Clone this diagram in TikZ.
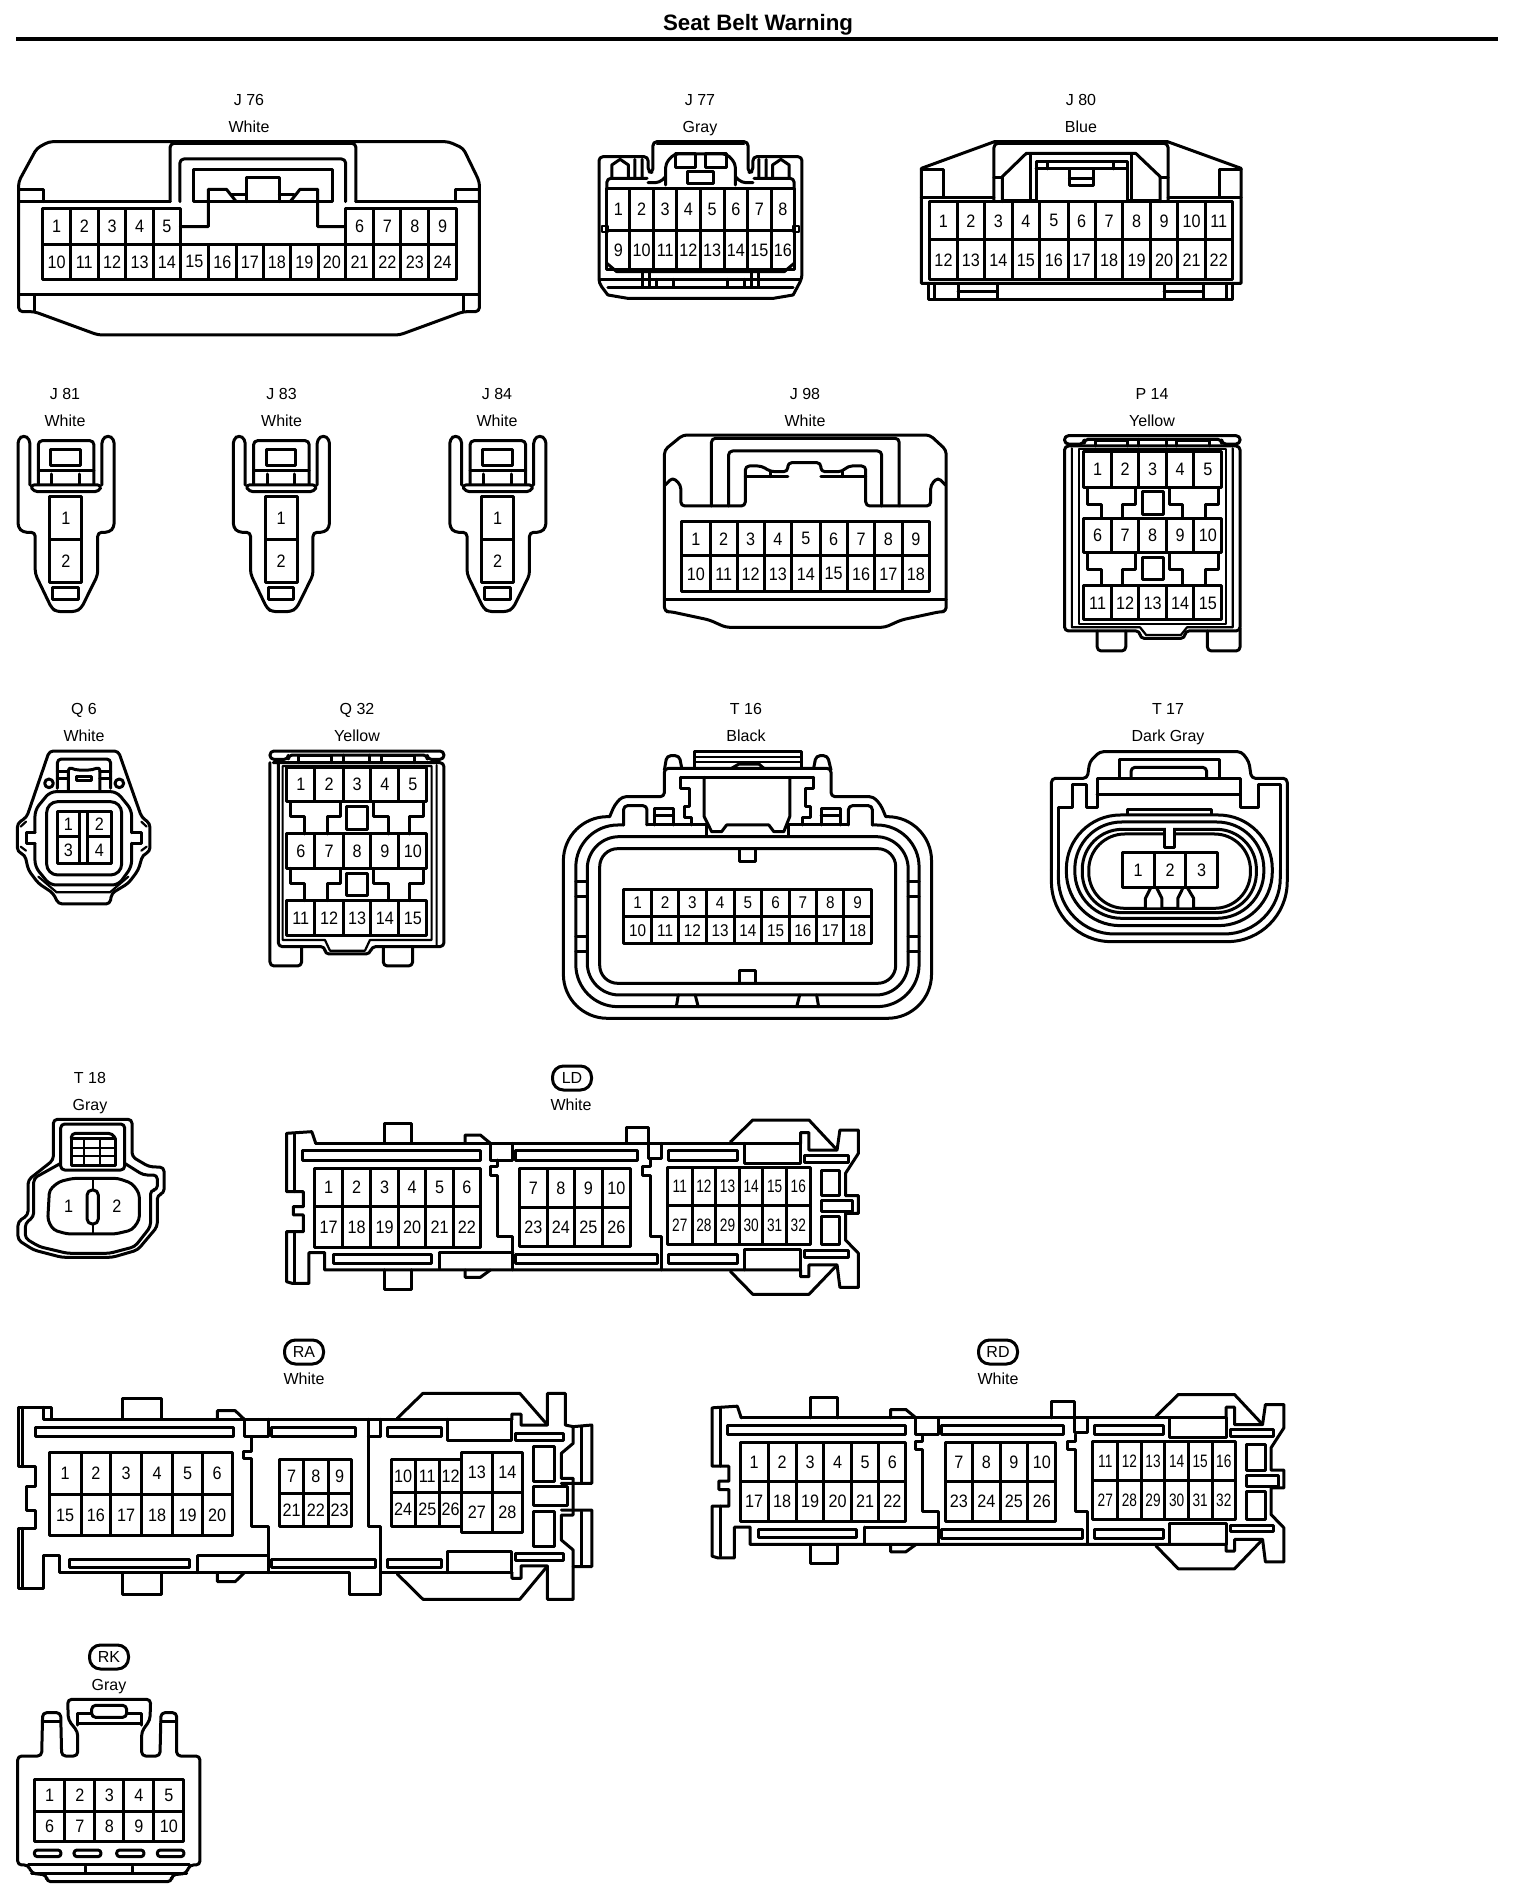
\documentclass[tikz,border=0pt]{standalone}
\usepackage{fontspec}
\setmainfont{Liberation Sans}
\newfontfamily\pinfont{Liberation Sans}[FakeStretch=0.9]
\newfontfamily\pinnarrow{Liberation Sans}[FakeStretch=0.76]
\def\noneN{N}
\tikzset{
  pin/.style={inner sep=0pt,font=\pinfont\fontsize{18}{18}\selectfont},
  pinS/.style={pin/.append style={font=\pinfont\fontsize{17}{17}\selectfont}},
  pinN/.style={pin/.append style={font=\pinnarrow\fontsize{18}{18}\selectfont}},
  lab/.style={inner sep=0pt,anchor=base,font=\fontsize{16}{16}\selectfont},
  badge/.style={draw,line width=3pt,rounded corners=11pt,minimum width=39pt,minimum height=24pt,inner sep=0pt,font=\fontsize{16}{16}\selectfont},
  rd/.style={rounded corners=4pt},
  thinl/.style={line width=2.2pt},
  ttl/.style={inner sep=0pt,anchor=base,font=\bfseries\fontsize{22.3}{22}\selectfont},
}
\newcommand\cellrow[5]{%
  \pgfmathtruncatemacro\cstart{#4-1}%
  \foreach \xx [remember=\xx as \px (initially N), count=\ii from \cstart] in {#5}{%
    \ifx\px\noneN\else
      \draw (\px,#2) rectangle (\xx,#3);
      \path (\px,#2) -- (\xx,#3) node[pin,midway] (#1p\ii) {\ii};
    \fi}}
\newcommand\lab[4]{\node[lab] (#1) at (#2pt,-#3pt) {#4};}
\newcommand\slot[4]{\draw (#1,#2) rectangle (#3,#4);}
\newcommand\jtwo[1]{%
  \draw[rd] (78,345)--(78,208)--(62,195)--(47,208)--(47,472)--(60,487)--(92,487)--(92,612)--(135,715)--(148,725)--(197,725)--(212,715)--(255,615)--(255,487)--(285,487)--(298,472)--(298,208)--(282,195)--(266,208)--(266,345);
  \draw[rd] (78,345)--(266,345)--(258,365)--(88,365)--cycle;
  \draw[rd] (100,342)--(100,212)--(245,212)--(245,342);
  \draw (133,238) rectangle (210,287);
  \draw (100,302)--(245,302);
  \draw (135,312)--(135,342) (207,312)--(207,342);
  \cellrow{#1}{380}{508}{1}{130,214}
  \cellrow{#1}{508}{638}{2}{130,214}
  \draw (138,652) rectangle (205,690);
}
\newcommand\ldbody[1]{%
  % outer
  \draw (562,280)--(555,245)--(510,250)--(510,425)--(540,425)--(540,470)--(522,470)--(522,495)--(540,495)--(540,545)--(510,545)--(510,695)--(520,700)--(550,700)--(550,608)--(578,608)--(578,660)--(1425,660);
  \draw (525,250)--(525,425) (525,545)--(525,695);
  \draw (562,280)--(1425,280);
  \draw (685,280)--(685,220)--(733,220)--(733,280);
  \draw (828,280)--(828,255)--(855,255)--(873,280);
  \draw (1115,280)--(1115,232)--(1155,232)--(1155,280);
  \draw (685,660)--(685,718)--(733,718)--(733,660);
  \draw (828,660)--(828,682)--(855,682)--(873,660);
  \draw (1300,276)--(1340,210)--(1440,210)--(1490,300);
  \draw (1300,664)--(1340,733)--(1440,733)--(1490,645);
  \draw (1425,280)--(1425,248)--(1440,248)--(1440,300)--(1490,300)--(1495,240)--(1528,240)--(1528,310)--(1505,370)--(1505,437)--(1528,437)--(1528,490)--(1505,490)--(1505,570)--(1528,610)--(1528,712)--(1495,712)--(1490,645)--(1440,645)--(1440,680)--(1425,680)--(1425,660);
  % slots
  \slot{538}{302}{855}{330}\slot{918}{302}{1135}{330}\slot{1190}{302}{1313}{330}\slot{1432}{315}{1510}{337}
  \slot{593}{615}{768}{640}\slot{918}{615}{1170}{642}\slot{1190}{615}{1313}{642}\slot{1432}{602}{1510}{622}
  \draw (1325,280)--(1325,340)--(1425,340)--(1425,280);
  \draw (1325,660)--(1325,598)--(1425,598)--(1425,660);
  % dividers
  \draw (873,280)--(873,330)--(913,330)--(913,280);
  \draw (885,330)--(885,350)--(873,350)--(873,375)--(885,375)--(885,560)--(913,560)--(913,660);
  \draw (782,608)--(913,608) (782,608)--(782,655);
  \draw (1155,280)--(1155,325)--(1178,325)--(1178,280);
  \draw (1157,330)--(1157,350)--(1143,350)--(1143,375)--(1157,375)--(1157,560)--(1178,560)--(1178,660);
  % right slots
  \slot{1462}{360}{1495}{437}\slot{1462}{452}{1518}{485}\slot{1462}{500}{1495}{585}
  % cells
  \cellrow{#1}{355}{470}{1}{560,610,660,709,758,807,855}
  \cellrow{#1}{470}{592}{17}{560,610,660,709,758,807,855}
  \cellrow{#1}{355}{472}{7}{925,974,1023,1072,1122}
  \cellrow{#1}{472}{590}{23}{925,974,1023,1072,1122}
  \begin{scope}[pinN]
  \cellrow{#1}{352}{468}{11}{1188,1232,1274,1316,1358,1400,1442}
  \cellrow{#1}{468}{585}{27}{1188,1232,1274,1316,1358,1400,1442}
  \end{scope}
}
\begin{document}
\begin{tikzpicture}[line width=3pt,line join=round,line cap=round]
\useasboundingbox (0,0) rectangle (1536pt,-1904pt);
\node[ttl] (title) at (758pt,-30.5pt) {Seat Belt Warning};
\coordinate (ruleL) at (16pt,-39pt);
\coordinate (ruleR) at (1498pt,-39pt);
\draw[line width=3.6pt,line cap=butt] (ruleL)--(ruleR);
%
\lab{J76}{249}{105}{J 76}\lab{J76c}{249}{132}{White}
\lab{J77}{700}{105}{J 77}\lab{J77c}{700}{132}{Gray}
\lab{J80}{1081}{105}{J 80}\lab{J80c}{1081}{132}{Blue}
\lab{J81}{65}{399}{J 81}\lab{J81c}{65}{426}{White}
\lab{J83}{281.6}{399}{J 83}\lab{J83c}{281.6}{426}{White}
\lab{J84}{497}{399}{J 84}\lab{J84c}{497}{426}{White}
\lab{J98}{805}{399}{J 98}\lab{J98c}{805}{426}{White}
\lab{P14}{1152}{399}{P 14}\lab{P14c}{1152}{426}{Yellow}
\lab{Q6}{84}{714}{Q 6}\lab{Q6c}{84}{741}{White}
\lab{Q32}{357}{714}{Q 32}\lab{Q32c}{357}{741}{Yellow}
\lab{T16}{746}{714}{T 16}\lab{T16c}{746}{741}{Black}
\lab{T17}{1168}{714}{T 17}\lab{T17c}{1168}{741}{Dark Gray}
\lab{T18}{90}{1083}{T 18}\lab{T18c}{90}{1110}{Gray}
\node[badge] (LD) at (572pt,-1078pt) {LD}; \lab{LDc}{571}{1110}{White}
\node[badge] (RA) at (304pt,-1352pt) {RA}; \lab{RAc}{304}{1384}{White}
\node[badge] (RD) at (998pt,-1352pt) {RD}; \lab{RDc}{998}{1384}{White}
\node[badge] (RK) at (109pt,-1657pt) {RK}; \lab{RKc}{109}{1690}{Gray}
%
% ---------- J76
\begin{scope}[x=.4902pt,y=-.3333pt]
\draw[rd] (38,935)--(38,545)--(75,445)--(100,425)--(915,425)--(945,445)--(978,545)--(978,935)--(945,935)--(815,1005)--(200,1005)--(70,935)--cycle;
\draw (38,568)--(88,568)--(88,605) (978,568)--(930,568)--(930,605);
\draw (38,605)--(347,605) (726,605)--(978,605);
\draw[rd] (347,605)--(347,430)--(726,430)--(726,605);
\draw[rd] (367,605)--(367,477)--(705,477)--(705,605);
\draw (395,508)--(678,508)--(678,605)--(395,605)--cycle;
\draw (368,680)--(425,680)--(425,568)--(462,568)--(482,605);
\draw (502,605)--(502,533)--(570,533)--(570,605);
\draw (472,585)--(502,585) (570,585)--(600,585);
\draw (592,605)--(612,568)--(648,568)--(648,680)--(705,680);
\draw (38,885)--(978,885) (70,885)--(70,935) (945,885)--(945,935);
\cellrow{J76}{625}{733}{1}{87,144,200,257,313,368}
\cellrow{J76}{625}{733}{6}{705,762,818,875,931}
\cellrow{J76}{733}{838}{10}{87,144,200,257,313,368,425,482,537,593,649,705,762,818,875,931}
%
% ---------- J77
\draw[rd] (1240,885)--(1222,850)--(1222,470)--(1322,470)--(1322,515)--(1332,518)--(1332,425)--(1526,425)--(1526,518)--(1536,515)--(1536,470)--(1636,470)--(1636,835)--(1618,885);
\draw (1240,885)--(1280,895)--(1578,895)--(1618,885);
\draw[thinl] (1340,433)--(1518,433);
\draw[rd] (1238,565)--(1238,535)--(1320,535);
\draw[rd] (1620,565)--(1620,535)--(1538,535);
\draw (1248,535)--(1248,495)--(1265,478)--(1282,495)--(1282,535) (1295,478)--(1295,535) (1310,478)--(1310,535);
\draw (1610,535)--(1610,495)--(1593,478)--(1576,495)--(1576,535) (1563,478)--(1563,535) (1548,478)--(1548,535);
\draw[rd] (1358,555)--(1358,490)--(1375,462)--(1483,462)--(1500,490)--(1500,555);
\draw[rd] (1322,548)--(1345,548)--(1358,530) (1536,548)--(1513,548)--(1500,530);
\draw (1378,462) rectangle (1418,502) (1440,462) rectangle (1482,502) (1402,515) rectangle (1455,550);
\draw (1238,565)--(1620,565);
\cellrow{J77}{565}{692}{1}{1238,1285,1333,1381,1428,1477,1525,1573,1621}
\cellrow{J77}{692}{810}{9}{1238,1285,1333,1381,1428,1477,1525,1573,1621}
\draw[thinl] (1228,678) rectangle (1240,695) (1618,678) rectangle (1630,695);
\draw (1238,790)--(1258,815)--(1600,815)--(1620,790);
\draw (1225,838)--(1633,838) (1240,862)--(1618,862);
\draw (1310,815)--(1310,862) (1325,815)--(1325,862) (1340,838)--(1340,862) (1373,838)--(1373,862) (1485,838)--(1485,862) (1518,838)--(1518,862) (1533,815)--(1533,862) (1548,815)--(1548,862);
\end{scope}
%
% ---------- J80
\begin{scope}[x=.4902pt,y=-.3333pt,shift={(768pt,0pt)}]
\draw (313,850)--(313,505)--(462,425)--(815,425)--(965,505)--(965,850)--cycle;
\draw (313,592)--(461,592) (816,592)--(965,592);
\draw (313,508)--(358,508)--(358,592) (965,508)--(920,508)--(920,592);
\draw[rd] (461,600)--(461,430)--(816,430)--(816,600);
\draw (478,605)--(478,530)--(527,460)--(750,460)--(800,530)--(800,605);
\draw (461,532)--(478,532) (800,532)--(816,532);
\draw (478,603)--(547,603) (733,603)--(800,603);
\draw (535,465)--(535,600) (742,465)--(742,600);
\draw (547,600)--(547,485)--(733,485)--(733,600);
\draw (547,507)--(733,507) (570,485)--(570,507) (705,485)--(705,507);
\draw (615,507)--(615,557)--(663,557)--(663,507) (615,535)--(663,535);
\cellrow{J80}{605}{720}{1}{330,386,442,498,554,612,668,724,780,836,892,947}
\cellrow{J80}{720}{840}{12}{330,386,442,498,554,612,668,724,780,836,892,947}
\draw (328,850)--(328,898)--(948,898)--(948,850);
\draw (340,850)--(340,898) (388,850)--(388,898) (468,850)--(468,898) (808,850)--(808,898) (888,850)--(888,898) (935,850)--(935,898);
\draw (388,875)--(468,875) (808,875)--(888,875);
\end{scope}
%
% ---------- J81 J83 J84
\begin{scope}[x=.3831pt,y=-.3333pt,shift={(0pt,-370pt)}]\jtwo{J81}\end{scope}
\begin{scope}[x=.3831pt,y=-.3333pt,shift={(215.3pt,-370pt)}]\jtwo{J83}\end{scope}
\begin{scope}[x=.3831pt,y=-.3333pt,shift={(431.8pt,-370pt)}]\jtwo{J84}\end{scope}
%
% ---------- J98 P14
\begin{scope}[x=.4082pt,y=-.3333pt,shift={(640pt,-370pt)}]
\draw[rd] (60,240)--(105,195)--(710,195)--(750,240)--(750,725)--(735,725)--(640,750)--(600,772)--(210,772)--(170,750)--(75,725)--(60,725)--cycle;
\draw[rd] (62,345)--(80,322)--(100,345)--(100,408)--(258,408)--(258,288)--(298,288)--(320,305)--(362,305)--(362,278)--(443,278)--(443,305)--(495,305)--(510,288)--(553,288)--(553,408)--(712,408)--(712,345)--(730,322)--(748,345);
\draw (258,320)--(362,320) (443,320)--(553,320) (320,305)--(320,320) (495,305)--(495,320);
\draw[rd] (175,408)--(175,205)--(635,205)--(635,408);
\draw[rd] (217,408)--(217,243)--(592,243)--(592,408);
\draw (60,688)--(750,688);
\cellrow{J98}{455}{558}{1}{102,172,238,304,372,441,508,575,642,710}
\cellrow{J98}{558}{665}{10}{102,172,238,304,372,441,508,575,642,710}
% P14
\draw[rd] (1040,222)--(1040,197)--(1470,197)--(1470,222)--(1425,222)--(1425,208)--(1088,208)--(1088,222)--cycle;
\draw (1115,228)--(1115,210)--(1195,210)--(1195,228) (1222,208)--(1222,228) (1290,208)--(1290,228) (1315,228)--(1315,210)--(1395,210)--(1395,228);
\draw[rd] (1040,783)--(1040,228)--(1470,228)--(1470,783)--(1335,783)--(1335,805)--(1225,805)--(1225,783)--cycle;
\draw[thinl] (1058,235)--(1058,772)--(1225,772)--(1240,795)--(1325,795)--(1340,772)--(1452,772)--(1452,235);
\draw[thinl] (1075,238)--(1075,762)--(1435,762)--(1435,238)--cycle;
\cellrow{P14}{245}{352}{1}{1087,1155,1222,1289,1357,1425}
\cellrow{P14}{445}{548}{6}{1087,1155,1222,1289,1357,1425}
\cellrow{P14}{648}{750}{11}{1087,1155,1222,1289,1357,1425}
\foreach \dy in {0,197}{
\begin{scope}[yshift=-\dy*.3333pt]
\draw (1097,352)--(1097,403)--(1130,403)--(1130,445) (1183,445)--(1183,403)--(1215,403)--(1215,352);
\draw (1297,352)--(1297,403)--(1330,403)--(1330,445) (1385,445)--(1385,403)--(1417,403)--(1417,352);
\draw (1230,365) rectangle (1282,433);
\end{scope}}
\draw[rd] (1120,783)--(1120,843)--(1190,843)--(1190,783);
\draw[rd] (1390,783)--(1390,843)--(1470,843)--(1470,775);
\end{scope}
%
% ---------- Q6 Q32
\begin{scope}[x=.3333pt,y=-.3333pt,shift={(0pt,-690pt)}]
\draw[rd] (52,400)--(80,382)--(148,183)--(355,183)--(425,382)--(450,400)--(450,485)--(428,495)--(415,540)--(385,580)--(335,610)--(330,642)--(175,642)--(160,610)--(115,580)--(85,540)--(75,495)--(52,485)--cycle;
\draw[rounded corners=6pt] (105,428)--(105,360)--(150,305)--(350,305)--(395,360)--(395,428);
\draw (105,428)--(80,428)--(80,460)--(105,460) (395,428)--(425,428)--(425,460)--(395,460);
\draw[rounded corners=6pt] (105,460)--(105,530)--(150,585)--(355,585)--(395,530)--(395,460);
\draw[rounded corners=11pt] (140,335) rectangle (365,555);
\draw[thinl] (115,560)--(170,607)--(330,607)--(385,560);
\draw[thinl] (62,410)--(78,395) (62,470)--(78,482) (440,410)--(424,395) (440,470)--(424,482);
\cellrow{Q6}{365}{440}{1}{172,238}\cellrow{Q6}{365}{440}{2}{262,335}
\cellrow{Q6}{440}{522}{3}{172,238}\cellrow{Q6}{440}{522}{4}{262,335}
\draw (238,365)--(262,365) (238,522)--(262,522);
\draw[rd] (172,295)--(172,207)--(332,207)--(332,295);
\draw (172,245)--(205,245) (172,265)--(205,265) (300,245)--(332,245) (300,265)--(332,265);
\draw[rd] (205,302)--(205,230)--(225,240)--(278,240)--(300,230)--(300,302);
\draw (230,258) rectangle (275,272);
\draw (147,280) circle[radius=13] (358,280) circle[radius=13];
% Q32
\draw[rd] (810,208)--(810,183)--(1332,183)--(1332,208)--(1282,208)--(1282,195)--(865,195)--(865,208)--cycle;
\draw (895,218)--(895,197)--(995,197)--(995,218) (1030,195)--(1030,218) (1110,195)--(1110,218) (1145,218)--(1145,197)--(1245,197)--(1245,218) (1030,218)--(1110,218);
\draw[rd] (820,218)--(1332,218)--(1332,770)--(1115,770)--(1110,792)--(975,792)--(975,770)--(835,770)--(835,218);
\draw[rd] (810,218)--(810,828)--(905,828)--(905,770);
\draw[rd] (1150,770)--(1150,828)--(1238,828)--(1238,770);
\draw[thinl] (848,228)--(848,750)--(975,750)--(990,782)--(1095,782)--(1110,750)--(1295,750)--(1295,228)--cycle (1310,225)--(1310,765);
\cellrow{Q32}{232}{335}{1}{860,945,1030,1113,1197,1280}
\cellrow{Q32}{432}{535}{6}{860,945,1030,1113,1197,1280}
\cellrow{Q32}{632}{738}{11}{860,945,1030,1113,1197,1280}
\foreach \dy in {0,200}{
\begin{scope}[yshift=-\dy*.3333pt]
\draw (872,335)--(872,380)--(915,380)--(915,432) (982,432)--(982,380)--(1022,380)--(1022,335);
\draw (1122,335)--(1122,380)--(1165,380)--(1165,432) (1230,432)--(1230,380)--(1270,380)--(1270,335);
\draw (1040,350) rectangle (1102,418);
\end{scope}}
\end{scope}
%
% ---------- T16 T17
\begin{scope}[x=.4975pt,y=-.3333pt,shift={(540pt,-690pt)}]
% outer
\draw[rd] (140,380)--(150,345)--(165,320)--(250,320)--(250,235)--(585,235)--(585,320)--(670,320)--(685,345)--(695,380);
\draw[rounded corners=44pt] (140,380)--(47,380)--(47,985)--(787,985)--(787,380)--(695,380);
\draw (310,235)--(310,185)--(525,185)--(525,235);
\draw[thinl] (310,200)--(525,200) (310,215)--(525,215);
\draw[rd] (250,240)--(255,197)--(280,197)--(285,235) (585,240)--(578,197)--(555,197)--(550,235);
\draw (385,235)--(400,222)--(440,222)--(450,235);
\draw (283,262)--(550,262);
\draw (283,262)--(283,295)--(300,295)--(300,350)--(290,350)--(290,382)--(305,382)--(305,405);
\draw (550,262)--(550,295)--(533,295)--(533,350)--(543,350)--(543,382)--(528,382)--(528,405);
\draw (330,262)--(330,380)--(345,425)--(365,425)--(375,405)--(460,405)--(470,425)--(490,425)--(502,380)--(502,262);
\draw (215,405)--(335,405)--(335,438) (500,438)--(500,405)--(620,405);
% ring 2
\draw[rd] (215,405)--(215,347)--(168,347)--(168,405);
\draw[rd] (668,405)--(668,347)--(620,347)--(620,405);
\draw[rounded corners=42pt] (168,405)--(72,405)--(72,950)--(762,950)--(762,405)--(668,405);
\draw (230,405)--(230,355)--(268,355)--(268,405) (230,378)--(268,378);
\draw (565,405)--(565,355)--(603,355)--(603,405) (565,378)--(603,378);
% ring 3, 4
\draw[rounded corners=32pt] (95,440) rectangle (740,915);
\draw[rounded corners=18pt] (120,476) rectangle (715,880);
\draw (72,575)--(95,575) (72,620)--(95,620) (72,740)--(95,740) (72,785)--(95,785) (740,575)--(762,575) (740,620)--(762,620) (740,740)--(762,740) (740,785)--(762,785);
\draw (278,915)--(274,950) (312,915)--(318,950) (556,915)--(560,950) (522,915)--(516,950);
\draw (400,478)--(400,515)--(433,515)--(433,478) (400,880)--(400,842)--(433,842)--(433,880);
\begin{scope}[pinS]
\cellrow{T16}{598}{680}{1}{168,224,279,334,390,446,501,556,611,666}
\cellrow{T16}{680}{762}{10}{168,224,279,334,390,446,501,556,611,666}
\end{scope}
% T17
\draw[rd] (1028,540)--(1028,265)--(1100,265)--(1105,215)--(1125,185)--(1410,185)--(1425,215)--(1430,265)--(1502,265)--(1502,540);
\draw[rounded corners=60pt] (1028,540)--(1028,755)--(1502,755)--(1502,540);
\draw (1042,540)--(1042,352)--(1070,352)--(1070,283)--(1098,283)--(1098,352)--(1120,352)--(1120,265)--(1408,265)--(1408,352)--(1445,352)--(1445,283)--(1488,283)--(1488,540);
\draw[rounded corners=56pt] (1042,540)--(1042,732)--(1488,732)--(1488,540);
\draw (1120,312)--(1408,312);
\draw (1165,265)--(1165,208)--(1365,208)--(1365,265);
\draw[rd] (1188,262)--(1188,232)--(1340,232)--(1340,262);
\draw (1180,372)--(1180,360)--(1350,360)--(1350,372);
\draw[rounded corners=54pt] (1058,375) rectangle (1472,707);
\draw[rounded corners=47pt] (1075,396) rectangle (1455,685);
\draw[rounded corners=40pt] (1090,418) rectangle (1440,668);
\draw[rounded corners=36pt] (1103,432) rectangle (1428,655);
\path[fill=white] (1258,412) rectangle (1272,470);
\draw (1255,420)--(1255,472)--(1275,472)--(1275,420);
\cellrow{T17}{487}{593}{1}{1170,1235,1298,1362}
\path[fill=white] (1220,600) rectangle (1248,652) (1284,600) rectangle (1312,652);
\draw (1217,655)--(1217,625)--(1227,595) (1240,595)--(1250,625)--(1250,655);
\draw (1282,655)--(1282,625)--(1292,595) (1302,595)--(1314,625)--(1314,655);
\end{scope}
%
% ---------- T18 + LD
\begin{scope}[x=.5618pt,y=-.3333pt,shift={(0pt,-1050pt)}]
\draw[rd] (95,330)--(95,208)--(235,208)--(235,320)--(265,350)--(292,352)--(292,430)--(280,435)--(280,530)--(245,600)--(200,622)--(110,622)--(60,600)--(32,570)--(32,515)--(50,495)--(50,390)--cycle;
\draw[rd] (108,340)--(60,385)--(60,500)--(45,520)--(45,565)--(70,590)--(120,610)--(195,610)--(240,590)--(268,530)--(268,420)--(280,420)--(280,375)--(255,375)--(222,340);
\draw[rd] (108,360)--(108,222)--(222,222)--(222,360)--cycle;
\draw (127,265) rectangle (205,345);
\draw[thinl] (127,295)--(205,295) (127,318)--(205,318) (150,265)--(150,345) (178,265)--(178,345);
\draw[rd] (127,265)--(127,250)--(200,250)--(205,265);
\draw[rd] (88,420)--(105,395)--(130,385)--(210,385)--(235,400)--(248,430)--(248,510)--(235,540)--(205,552)--(120,552)--(95,540)--(85,510)--cycle;
\draw[thinl] (165,385)--(165,552);
\draw[fill=white,rounded corners=5pt] (155,420) rectangle (175,522);
\node[pin] (T18p1) at (122,468) {1};
\node[pin] (T18p2) at (208,468) {2};
\ldbody{LD}
\end{scope}
\begin{scope}[x=.5618pt,y=-.3333pt,shift={(425.5pt,-1324.5pt)}]
\ldbody{RD}
\end{scope}
%
% ---------- RA
\begin{scope}[x=.3953pt,y=-.3333pt,shift={(0pt,-1330pt)}]
\draw (130,268)--(130,232)--(47,232)--(47,410)--(90,410)--(90,470)--(68,470)--(68,540)--(90,540)--(90,595)--(47,595)--(47,775)--(110,775)--(110,678)--(150,678)--(150,728)--(885,728)--(885,795)--(962,795)--(962,728)--(1295,728);
\draw (58,232)--(58,410) (58,595)--(58,775);
\draw (110,232)--(110,268)--(1295,268);
\draw (310,268)--(310,205)--(408,205)--(408,268);
\draw (550,268)--(550,242)--(595,242)--(618,268);
\draw (550,728)--(550,755)--(595,755)--(618,728);
\draw (310,728)--(310,795)--(408,795)--(408,728);
\draw (1005,265)--(1070,190)--(1315,190)--(1385,285);
\draw (1005,732)--(1070,808)--(1315,808)--(1385,708);
\draw (1295,268)--(1295,252)--(1318,252)--(1318,285)--(1385,285)--(1385,190)--(1430,190)--(1430,285)--(1450,290)--(1450,340)--(1420,370)--(1420,445)--(1450,445)--(1450,555)--(1420,555)--(1420,630)--(1450,660)--(1450,808)--(1385,808)--(1385,708)--(1318,708)--(1318,745)--(1295,745)--(1295,728);
\draw (1450,290)--(1497,285)--(1497,460)--(1420,460) (1420,540)--(1497,540)--(1497,710)--(1450,710);
\draw (1472,290)--(1472,455) (1472,545)--(1472,705);
\slot{90}{292}{590}{320}\slot{687}{292}{900}{320}\slot{980}{292}{1118}{320}\slot{1305}{310}{1425}{330}
\slot{175}{688}{480}{714}\slot{687}{688}{950}{714}\slot{980}{688}{1118}{714}\slot{1305}{670}{1425}{692}
\draw (1133,268)--(1133,332)--(1295,332)--(1295,268);
\draw (1133,728)--(1133,665)--(1295,665)--(1295,728);
\slot{1350}{348}{1402}{455}\slot{1350}{470}{1435}{525}\slot{1350}{545}{1402}{650}
\draw (618,268)--(618,320)--(678,320)--(678,268);
\draw (635,320)--(635,365)--(615,365)--(615,385)--(635,385)--(635,590)--(678,590)--(678,728);
\draw (500,678)--(678,678) (500,678)--(500,728);
\draw (932,268)--(932,590)--(962,590)--(962,728);
\draw (932,320)--(962,320) (962,268)--(962,320);
\cellrow{RA}{368}{492}{1}{125,205,280,358,437,512,587}
\cellrow{RA}{492}{618}{15}{125,205,280,358,437,512,587}
\cellrow{RA}{388}{490}{7}{707,768,830,888}
\cellrow{RA}{490}{590}{21}{707,768,830,888}
\cellrow{RA}{388}{488}{10}{990,1050,1112,1168}
\cellrow{RA}{488}{590}{24}{990,1050,1112,1168}
\cellrow{RA}{368}{488}{13}{1168,1245,1322}
\cellrow{RA}{488}{608}{27}{1168,1245,1322}
\end{scope}
%
% ---------- RK
\begin{scope}[x=.3333pt,y=-.3333pt,shift={(0pt,-1630pt)}]
\draw[rd] (53,378)--(125,378)--(128,248)--(182,248)--(185,378)--(233,378)--(233,305)--(205,270)--(203,208)--(452,208)--(450,270)--(425,305)--(425,378)--(480,378)--(483,248)--(530,248)--(530,378)--(600,378)--(600,705)--(568,705)--(560,730)--(515,735)--(515,755)--(140,755)--(140,735)--(95,730)--(85,705)--(53,705)--cycle;
\draw (232,285)--(232,250)--(275,250) (380,250)--(425,250)--(425,285) (232,280)--(425,280);
\draw[rd] (275,262)--(275,226)--(380,226)--(380,262)--cycle;
\draw (132,275)--(180,275) (483,275)--(528,275);
\draw (85,705)--(568,705) (95,730)--(560,730) (258,710)--(258,730) (398,710)--(398,730);
\cellrow{RK}{448}{543}{1}{103,195,285,372,462,552}
\cellrow{RK}{543}{635}{6}{103,195,285,372,462,552}
\draw[rounded corners=3pt] (103,660) rectangle (183,680) (222,660) rectangle (303,680) (350,660) rectangle (432,680) (472,660) rectangle (552,680);
\end{scope}
\end{tikzpicture}
\end{document}
